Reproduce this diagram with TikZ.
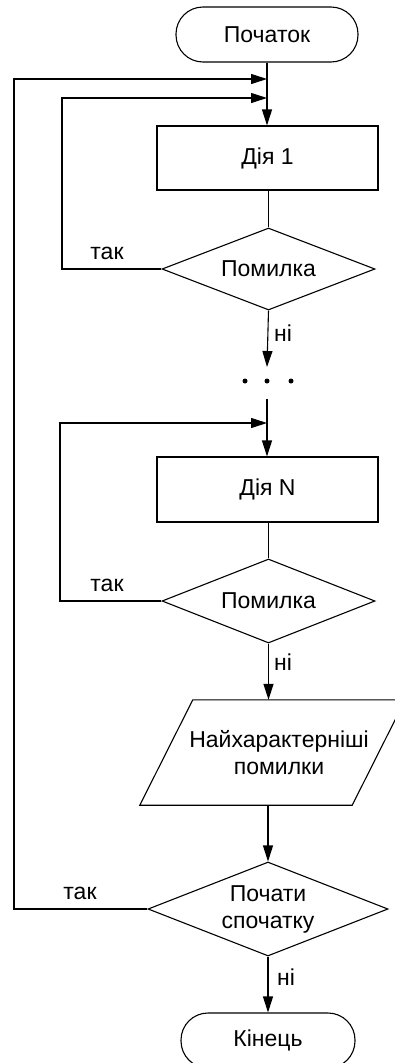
\documentclass[tikz,border=0pt]{standalone}
\usepackage{fontspec}
\setmainfont{Liberation Sans}
\usetikzlibrary{arrows.meta,shapes.geometric}
\begin{document}
\begin{tikzpicture}[x=1pt,y=-1pt,
  every node/.style={font=\fontsize{23}{27}\selectfont},
  line/.style={line width=1.1pt},
  arr/.style={line, -{Triangle[length=16pt,width=10pt]}},
  term/.style={draw, line width=1.1pt, rectangle, rounded corners=27pt, minimum height=55pt, inner sep=0pt},
  proc/.style={draw, line width=1.1pt, rectangle, minimum width=221pt, inner sep=0pt},
  dec/.style={draw, line width=1.1pt, diamond, aspect=2.6, inner sep=0pt, align=center},
  io/.style={rectangle, inner sep=0pt, align=center},
  lbl/.style={inner sep=0pt}]
\clip (0,0) rectangle (395,1063);
% nodes
\node[term, minimum width=182pt] (start) at (267,34.5) {Початок};
\node[proc, minimum height=64pt] (box1) at (267.5,158) {Дія 1};
\node[dec, minimum width=213pt, minimum height=82pt] (d1) at (268.5,269) {Помилка};
\node[proc, minimum height=65pt] (boxN) at (267.5,489.5) {Дія N};
\node[dec, minimum width=213pt, minimum height=84pt] (d2) at (268.5,601) {Помилка};
\node[io, minimum width=212pt, minimum height=105pt] (para) at (279,752.5) {Найхарактерніші\\помилки};
\draw[line] ([xshift=20pt]para.north west) -- ([xshift=20pt]para.north east)
  -- ([xshift=-33pt]para.south east) -- ([xshift=-33pt]para.south west) -- cycle;
\node[dec, minimum width=240pt, minimum height=94pt] (d3) at (268,909) {Почати\\спочатку};
\node[term, minimum width=174pt] (end) at (268,1040.5) {Кінець};
% dots
\node[circle, fill, inner sep=0pt, minimum size=5pt] (dotL) at (245,381) {};
\node[circle, fill, inner sep=0pt, minimum size=5pt] (dotM) at (267,381) {};
\node[circle, fill, inner sep=0pt, minimum size=5pt] (dotR) at (291,381) {};
% coordinates
\coordinate (j0) at (267,79);
\coordinate (j1) at (267,98);
\coordinate (j2) at (267,423);
\coordinate (l0) at (14,79);
\coordinate (l1) at (62,98);
\coordinate (l2) at (60,423);
\coordinate (c1) at (267,367);
\coordinate (c2) at (267,399);
% connectors
\draw[arr] (start.south) -- (start.south |- box1.north);
\draw[line] (box1.south -| d1.north) -- (d1.north);
\draw[arr] (d1.south) -- (c1);
\draw[arr] (c2) -- (c2 |- boxN.north);
\draw[line] (boxN.south -| d2.north) -- (d2.north);
\draw[arr] (d2.south) -- (d2.south |- para.north);
\draw[arr] (d3.north |- para.south) -- (d3.north);
\draw[arr] (d3.south) -- (end.north);
% loops
\draw[arr] (d1.west) -| (l1) -- (j1);
\draw[arr] (d2.west) -| (l2) -- (j2);
\draw[arr] (d3.west) -| (l0) -- (j0);
% labels
\node[lbl] (t1) at (107,253) {так};
\node[lbl] (t2) at (107,585) {так};
\node[lbl] (t3) at (80,893) {так};
\node[lbl] (n1) at (283,333) {ні};
\node[lbl] (n2) at (283,662) {ні};
\node[lbl] (n3) at (286,977) {ні};
\end{tikzpicture}
\end{document}
